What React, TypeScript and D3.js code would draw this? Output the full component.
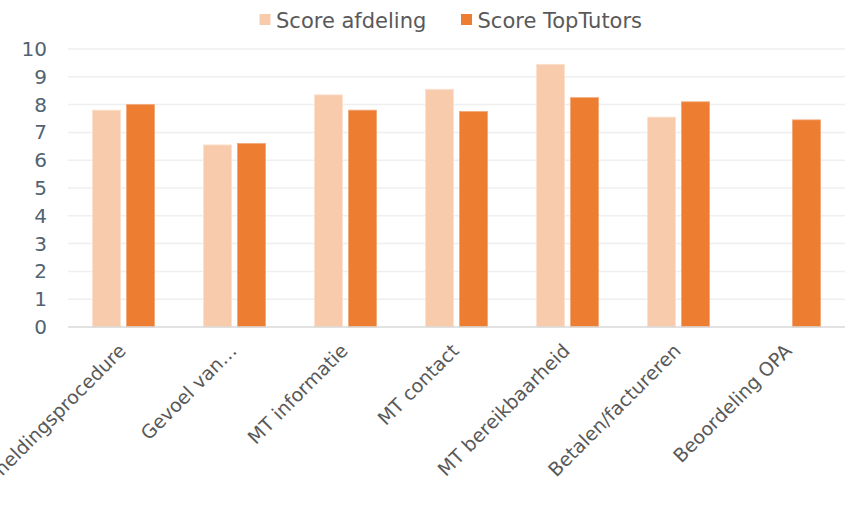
import React, { useEffect, useRef } from 'react';
import * as d3 from 'd3';

const categories = [
  'Aanmeldingsprocedure',
  'Gevoel van…',
  'MT informatie',
  'MT contact',
  'MT bereikbaarheid',
  'Betalen/factureren',
  'Beoordeling OPA',
];
const seriesNames = ['Score afdeling', 'Score TopTutors'];
const scoreAfdeling = [7.8, 6.55, 8.35, 8.55, 9.45, 7.55, null];
const scoreTopTutors = [8.0, 6.6, 7.8, 7.75, 8.25, 8.1, 7.45];
const yTicks = [0, 1, 2, 3, 4, 5, 6, 7, 8, 9, 10];
const colors = ['#F8CBAD', '#ED7D31'];

const App = () => {
  const chartRef = useRef<SVGSVGElement>(null);

  useEffect(() => {
    drawChart();
  }, []);

  const drawChart = () => {
    const svg = d3.select(chartRef.current);
    svg.selectAll('*').remove();

    const left = 68, right = 845, top = 49, bottom = 327;

    const x0 = d3.scaleBand<string>()
      .domain(categories)
      .range([left, right])
      .paddingInner(0.441)
      .paddingOuter(0.2205);

    const x1 = d3.scaleBand<string>()
      .domain(seriesNames)
      .range([0, x0.bandwidth()])
      .paddingInner(0.176);

    const y = d3.scaleLinear().domain([0, 10]).range([bottom, top]);

    // gridlines
    svg.append('g')
      .selectAll('line')
      .data(yTicks.filter(t => t > 0))
      .enter().append('line')
      .attr('x1', left)
      .attr('x2', right)
      .attr('y1', d => y(d))
      .attr('y2', d => y(d))
      .attr('stroke', '#efefef')
      .attr('stroke-width', 1.5);

    // y tick labels
    svg.append('g')
      .selectAll('text')
      .data(yTicks)
      .enter().append('text')
      .attr('x', 47)
      .attr('y', d => y(d))
      .attr('text-anchor', 'end')
      .attr('dominant-baseline', 'central')
      .style('font-family', 'DejaVu Sans')
      .style('font-size', '20px')
      .attr('fill', '#526371')
      .text(d => d);

    const series = [scoreAfdeling, scoreTopTutors];
    series.forEach((vals, si) => {
      svg.append('g')
        .selectAll('rect')
        .data(categories.map((c, i) => ({ c, v: vals[i] })).filter(d => d.v != null))
        .enter().append('rect')
        .attr('x', d => (x0(d.c) as number) + (x1(seriesNames[si]) as number))
        .attr('y', d => y(d.v as number))
        .attr('width', x1.bandwidth())
        .attr('height', d => bottom - y(d.v as number))
        .attr('fill', colors[si])
        .attr('stroke', si === 0 ? '#fbe0cd' : '#f2a676')
        .attr('stroke-width', 0.8);
    });

    // baseline
    svg.append('line')
      .attr('x1', left)
      .attr('x2', right)
      .attr('y1', bottom)
      .attr('y2', bottom)
      .attr('stroke', '#d9d9d9')
      .attr('stroke-width', 1.5);

    // x labels
    svg.append('g')
      .selectAll('text')
      .data(categories)
      .enter().append('text')
      .attr('transform', d => `translate(${(x0(d) as number) + x0.bandwidth() / 2 + 3.5},352) rotate(-45)`)
      .attr('text-anchor', 'end')
      .style('font-family', 'DejaVu Sans')
      .style('font-size', '19px')
      .attr('fill', '#595959')
      .text(d => d);

    // legend
    const legendX = [259.5, 461];
    seriesNames.forEach((name, i) => {
      svg.append('rect')
        .attr('x', legendX[i])
        .attr('y', 14)
        .attr('width', 11)
        .attr('height', 11)
        .attr('fill', colors[i]);
      svg.append('text')
        .attr('x', legendX[i] + 16.5)
        .attr('y', 27.5)
        .style('font-family', 'DejaVu Sans')
        .style('font-size', '21px')
        .attr('fill', '#595959')
        .text(name);
    });
  };

  return (
    <svg
      ref={chartRef}
      width={848}
      height={512}
      style={{ position: 'absolute', left: 0, top: 0, background: '#fff' }}
    />
  );
};

export default App;
